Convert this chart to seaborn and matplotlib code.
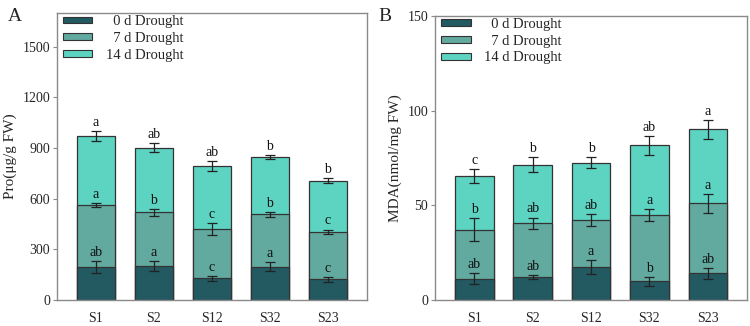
import matplotlib
matplotlib.use("Agg")
import matplotlib.pyplot as plt
from matplotlib.patches import Patch
import numpy as np
import pandas as pd
import seaborn as sns

# categories
lines = ["S1", "S2", "S12", "S32", "S23"]
stages = ["0 d Drought", "7 d Drought", "14 d Drought"]

# panel A: proline, stacked increments per stage
pro_0d = [193, 199, 129, 197, 123]
pro_7d = [371, 320, 290, 310, 282]
pro_14d = [408, 382, 373, 340, 301]
pro_err_0d = [35, 30, 15, 28, 15]
pro_err_7d = [12, 20, 35, 15, 12]
pro_err_14d = [29, 27, 30, 14, 15]
pro_let_0d = ["ab", "a", "c", "a", "c"]
pro_let_7d = ["a", "b", "c", "b", "c"]
pro_let_14d = ["a", "ab", "ab", "b", "b"]

# panel B: MDA
mda_0d = [11.3, 12.1, 17.3, 9.8, 14.1]
mda_7d = [25.8, 28.4, 24.7, 35.0, 37.0]
mda_14d = [28.3, 30.9, 30.5, 36.8, 39.0]
mda_err_0d = [3.0, 1.2, 3.7, 2.5, 2.8]
mda_err_7d = [6.0, 3.0, 3.2, 3.3, 5.0]
mda_err_14d = [3.6, 4.0, 3.0, 4.8, 4.9]
mda_let_0d = ["ab", "ab", "a", "b", "ab"]
mda_let_7d = ["b", "ab", "ab", "a", "a"]
mda_let_14d = ["c", "b", "b", "ab", "a"]

colors = ["#235a62", "#62a99f", "#5dd3c2"]
edge = "#333333"
spine_col = "#8a8a8a"

sns.set_style("white")
plt.rcParams["font.family"] = ["Liberation Serif", "DejaVu Serif"]

fig = plt.figure(figsize=(7.5, 3.26), dpi=100)
axA = fig.add_axes([0.076, 0.080, 0.413, 0.880])
axB = fig.add_axes([0.580, 0.080, 0.416, 0.871])


def draw_panel(ax, parts, errs, letters, ylim, yticks, ylabel):
    cums = np.cumsum(np.array(parts), axis=0)
    # draw tallest first so the lower segments sit on top
    for i in [2, 1, 0]:
        df = pd.DataFrame({"line": lines, "value": cums[i]})
        sns.barplot(data=df, x="line", y="value", color=colors[i],
                    saturation=1, width=0.66, edgecolor=edge, linewidth=0.9,
                    ax=ax, errorbar=None)
    xs = np.arange(len(lines))
    for i in range(3):
        ax.errorbar(xs, cums[i], yerr=errs[i], fmt="none", ecolor="#222222",
                    elinewidth=0.9, capsize=3.5, capthick=0.9, zorder=5)
        for x, y, e, t in zip(xs, cums[i], errs[i], letters[i]):
            ax.annotate(t, (x, y + e), xytext=(0, 1.5), textcoords="offset points",
                        ha="center", va="bottom", fontsize=10, color="#111111")
    ax.set_xlim(-0.672, 4.672)
    ax.set_ylim(*ylim)
    ax.set_yticks(yticks)
    ax.set_xlabel("")
    ax.set_ylabel(ylabel, fontsize=11, labelpad=4)
    ax.tick_params(axis="y", direction="out", length=3, width=0.8,
                   color=spine_col, labelsize=10, pad=2, left=True)
    ax.tick_params(axis="x", length=0, labelsize=10, pad=9)
    for s in ax.spines.values():
        s.set_color(spine_col)
        s.set_linewidth(1.0)
    handles = [Patch(facecolor=c, edgecolor=edge, linewidth=0.8) for c in colors]
    labels = ["  " + stages[0], "  " + stages[1], stages[2]]
    ax.legend(handles, labels, loc="upper left", frameon=False, fontsize=10.5,
              handlelength=2.05, handleheight=0.35, labelspacing=0.25,
              handletextpad=0.95, borderaxespad=0.0, borderpad=0.15,
              bbox_to_anchor=(0.011, 1.0))


draw_panel(axA, [pro_0d, pro_7d, pro_14d],
           [pro_err_0d, pro_err_7d, pro_err_14d],
           [pro_let_0d, pro_let_7d, pro_let_14d],
           (0, 1700), [0, 300, 600, 900, 1200, 1500], "Pro(\u03bcg/g FW)")
draw_panel(axB, [mda_0d, mda_7d, mda_14d],
           [mda_err_0d, mda_err_7d, mda_err_14d],
           [mda_let_0d, mda_let_7d, mda_let_14d],
           (0, 150), [0, 50, 100, 150], "MDA(nmol/mg FW)")

fig.text(0.010, 0.975, "A", fontsize=14, va="top", ha="left")
fig.text(0.504, 0.975, "B", fontsize=14, va="top", ha="left")

fig.savefig("out.png", dpi=100)
